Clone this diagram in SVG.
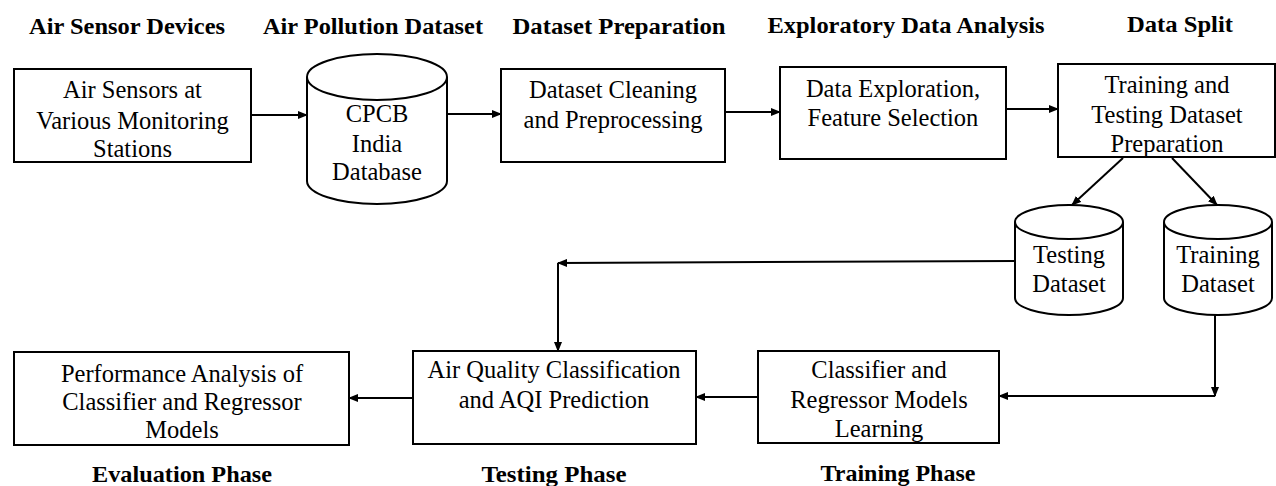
<svg xmlns="http://www.w3.org/2000/svg" width="1276" height="486" viewBox="0 0 1276 486">
<style>
.box{fill:#fff;stroke:#000;stroke-width:2}
.cyl{fill:#fff;stroke:#000;stroke-width:2}
.t{font-family:"Liberation Serif",serif;font-size:24.5px;fill:#000;text-anchor:middle}
.h{font-family:"Liberation Serif",serif;font-size:23px;font-weight:bold;fill:#000;text-anchor:middle}
.c{fill:none;stroke:#000;stroke-width:2}
</style>
<defs>
<marker id="ah" markerUnits="userSpaceOnUse" markerWidth="10" markerHeight="8" refX="9" refY="4" orient="auto">
<path d="M0,0 L10,4 L0,8 z" fill="#000"/>
</marker>
</defs>
<rect width="1276" height="486" fill="#fff"/>

<g id="headers">
<text class="h" x="127" y="34" textLength="196" lengthAdjust="spacingAndGlyphs">Air Sensor Devices</text>
<text class="h" x="373" y="34" textLength="220" lengthAdjust="spacingAndGlyphs">Air Pollution Dataset</text>
<text class="h" x="619" y="34" textLength="213" lengthAdjust="spacingAndGlyphs">Dataset Preparation</text>
<text class="h" x="906" y="33" textLength="277" lengthAdjust="spacingAndGlyphs">Exploratory Data Analysis</text>
<text class="h" x="1180" y="32" textLength="106" lengthAdjust="spacingAndGlyphs">Data Split</text>
<text class="h" x="182" y="482" textLength="180" lengthAdjust="spacingAndGlyphs">Evaluation Phase</text>
<text class="h" x="554" y="482" textLength="145" lengthAdjust="spacingAndGlyphs">Testing Phase</text>
<text class="h" x="898" y="481" textLength="155" lengthAdjust="spacingAndGlyphs">Training Phase</text>
</g>

<g id="connectors">
<line class="c" x1="251" y1="115" x2="307" y2="115" marker-end="url(#ah)"/>
<line class="c" x1="447" y1="114" x2="501" y2="114" marker-end="url(#ah)"/>
<line class="c" x1="725" y1="112" x2="780" y2="112" marker-end="url(#ah)"/>
<line class="c" x1="1006" y1="109" x2="1058" y2="109" marker-end="url(#ah)"/>
<line class="c" x1="1123" y1="158" x2="1072" y2="205" marker-end="url(#ah)"/>
<line class="c" x1="1172" y1="158" x2="1217" y2="205" marker-end="url(#ah)"/>
<line class="c" x1="1015" y1="261" x2="558" y2="263" marker-end="url(#ah)"/>
<line class="c" x1="558" y1="263" x2="558" y2="351" marker-end="url(#ah)"/>
<line class="c" x1="1215" y1="315" x2="1215" y2="396" marker-end="url(#ah)"/>
<line class="c" x1="1215" y1="396" x2="999" y2="396" marker-end="url(#ah)"/>
<line class="c" x1="758" y1="397" x2="696" y2="397" marker-end="url(#ah)"/>
<line class="c" x1="413" y1="398" x2="349" y2="398" marker-end="url(#ah)"/>
</g>

<g id="n-sensors">
<rect class="box" x="14" y="69" width="237" height="93"/>
<text class="t" x="132.5" y="98">Air Sensors at</text>
<text class="t" x="132.5" y="129">Various Monitoring</text>
<text class="t" x="132.5" y="157">Stations</text>
</g>

<g id="n-cpcb">
<path class="cyl" d="M307,77 V181 A70,23 0 0 0 447,181 V77"/>
<ellipse class="cyl" cx="377" cy="77" rx="70" ry="23"/>
<text class="t" x="377" y="122">CPCB</text>
<text class="t" x="377" y="152">India</text>
<text class="t" x="377" y="180">Database</text>
</g>

<g id="n-cleaning">
<rect class="box" x="501" y="69" width="224" height="93"/>
<text class="t" x="613" y="98">Dataset Cleaning</text>
<text class="t" x="613" y="128">and Preprocessing</text>
</g>

<g id="n-explore">
<rect class="box" x="780" y="67" width="226" height="92"/>
<text class="t" x="893" y="97">Data Exploration,</text>
<text class="t" x="893" y="126">Feature Selection</text>
</g>

<g id="n-split">
<rect class="box" x="1058" y="64" width="217" height="93"/>
<text class="t" x="1167" y="93">Training and</text>
<text class="t" x="1167" y="123">Testing Dataset</text>
<text class="t" x="1167" y="152">Preparation</text>
</g>

<g id="n-testing-ds">
<path class="cyl" d="M1015,222 V298 A54,17 0 0 0 1123,298 V222"/>
<ellipse class="cyl" cx="1069" cy="222" rx="54" ry="17"/>
<text class="t" x="1069" y="263">Testing</text>
<text class="t" x="1069" y="292">Dataset</text>
</g>

<g id="n-training-ds">
<path class="cyl" d="M1164,222 V298 A54,17 0 0 0 1272,298 V222"/>
<ellipse class="cyl" cx="1218" cy="222" rx="54" ry="17"/>
<text class="t" x="1218" y="263">Training</text>
<text class="t" x="1218" y="292">Dataset</text>
</g>

<g id="n-learning">
<rect class="box" x="758" y="351" width="241" height="92"/>
<text class="t" x="879" y="378">Classifier and</text>
<text class="t" x="879" y="408">Regressor Models</text>
<text class="t" x="879" y="437">Learning</text>
</g>

<g id="n-prediction">
<rect class="box" x="413" y="351" width="283" height="93"/>
<text class="t" x="554" y="378">Air Quality Classification</text>
<text class="t" x="554" y="408">and AQI Prediction</text>
</g>

<g id="n-performance">
<rect class="box" x="14" y="352" width="335" height="93"/>
<text class="t" x="182" y="382">Performance Analysis of</text>
<text class="t" x="182" y="410">Classifier and Regressor</text>
<text class="t" x="182" y="438">Models</text>
</g>
</svg>
